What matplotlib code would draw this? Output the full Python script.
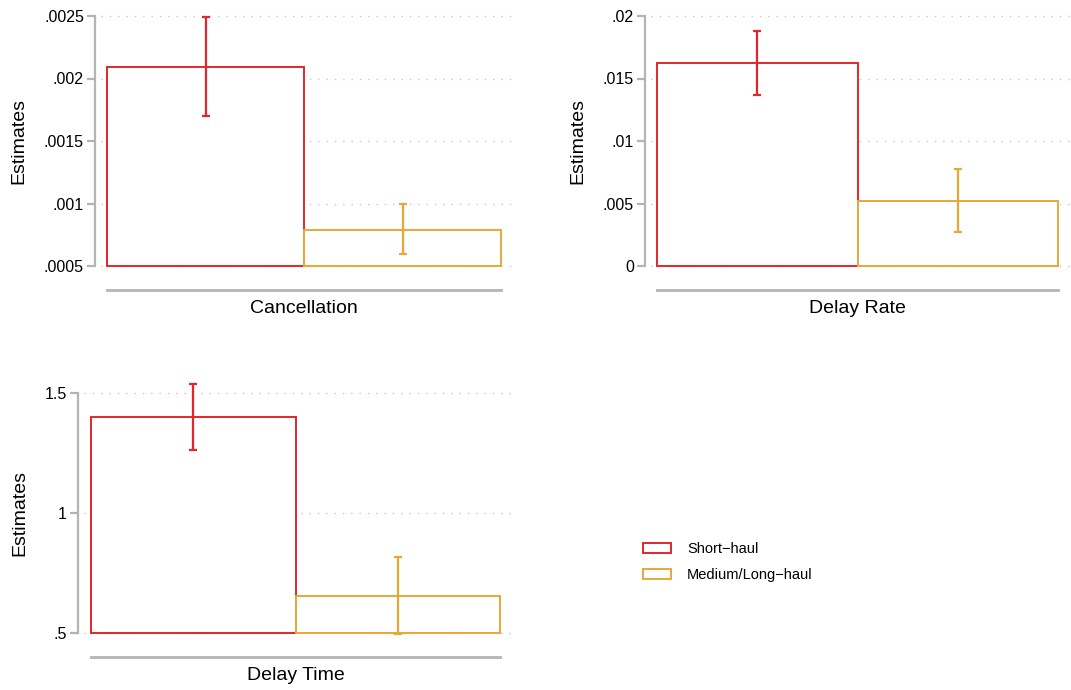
import matplotlib
matplotlib.use("Agg")
import matplotlib.pyplot as plt
from matplotlib.patches import Patch

plt.rcParams['font.family'] = ['Liberation Sans', 'DejaVu Sans']

series = ["Short\u2212haul", "Medium/Long\u2212haul"]
colors = ["#E3262B", "#E8A838"]

outcomes = ["Cancellation", "Delay Rate", "Delay Time"]
estimates = [[0.00209, 0.00079], [0.01622, 0.0052], [1.398, 0.656]]
ci_low = [[0.0017, 0.0006], [0.0137, 0.0027], [1.262, 0.497]]
ci_high = [[0.00249, 0.00100], [0.0188, 0.0078], [1.536, 0.817]]
yticks = [[0.0005, 0.001, 0.0015, 0.002, 0.0025],
          [0, 0.005, 0.01, 0.015, 0.02],
          [0.5, 1, 1.5]]
yticklabels = [[".0005", ".001", ".0015", ".002", ".0025"],
               ["0", ".005", ".01", ".015", ".02"],
               [".5", "1", "1.5"]]

W, H = 1071, 690
fig = plt.figure(figsize=(W / 100, H / 100), dpi=100)

# pixel layouts: (axes left, axes right, top, bottom, bar left, bar right, xaxis line y)
layouts = [
    (95, 515, 16, 266, 107, 501, 290),
    (645, 1071, 16, 266, 657, 1058, 290),
    (78, 512, 392.7, 633.3, 91, 500, 657),
]

grey = "#b4b4b4"
for k, (x0, x1, yt, yb, bl, br, xl) in enumerate(layouts):
    ax = fig.add_axes([x0 / W, 1 - yb / H, (x1 - x0) / W, (yb - yt) / H])
    ppu = (br - bl) / 2.0
    xmin = -0.5 - (bl - x0) / ppu
    xmax = xmin + (x1 - x0) / ppu
    ymin, ymax = yticks[k][0], yticks[k][-1]
    ax.set_xlim(xmin, xmax)
    ax.set_ylim(ymin, ymax)
    for t in yticks[k]:
        ax.plot([xmin + 6 / ppu, xmax], [t, t], linestyle=(0, (1, 5)),
                color="#c8c8c8", lw=1.0, zorder=0, clip_on=False)
    for i in range(2):
        ax.bar(i, estimates[k][i] - ymin, bottom=ymin, width=1.0,
               facecolor="white", edgecolor=colors[i], linewidth=1.4,
               zorder=2, clip_on=False)
        ax.errorbar(i, estimates[k][i],
                    yerr=[[estimates[k][i] - ci_low[k][i]], [ci_high[k][i] - estimates[k][i]]],
                    fmt="none", ecolor=colors[i], elinewidth=1.6, capsize=3,
                    capthick=1.6, zorder=3, clip_on=False)
    for s in ["top", "right", "bottom"]:
        ax.spines[s].set_visible(False)
    ax.spines["left"].set_color(grey)
    ax.spines["left"].set_linewidth(1.6)
    ax.set_yticks(yticks[k])
    ax.set_yticklabels(yticklabels[k], fontsize=11.5)
    ax.tick_params(axis="y", length=6, width=1.6, color=grey, pad=2)
    ax.set_xticks([])
    ax.set_ylabel("Estimates", fontsize=14, labelpad=12)
    # separate x axis line below plot region
    yline = ymax - (xl - yt) / (yb - yt) * (ymax - ymin)
    ax.plot([-0.5, 1.5], [yline, yline], color=grey, lw=2.0, clip_on=False)
    ylab = ymax - (xl + 18.5 - yt) / (yb - yt) * (ymax - ymin)
    ax.text(0.5, ylab, outcomes[k], ha="center", va="center", fontsize=14)

handles = [Patch(facecolor="white", edgecolor=c, linewidth=1.4) for c in colors]
fig.legend(handles, series, loc="center left", bbox_to_anchor=(630 / W, 1 - 562 / H),
           frameon=False, fontsize=10.5, handlelength=1.9, handleheight=0.65,
           handletextpad=1.1, labelspacing=0.8)

fig.savefig("out.png", dpi=100, facecolor="white")
